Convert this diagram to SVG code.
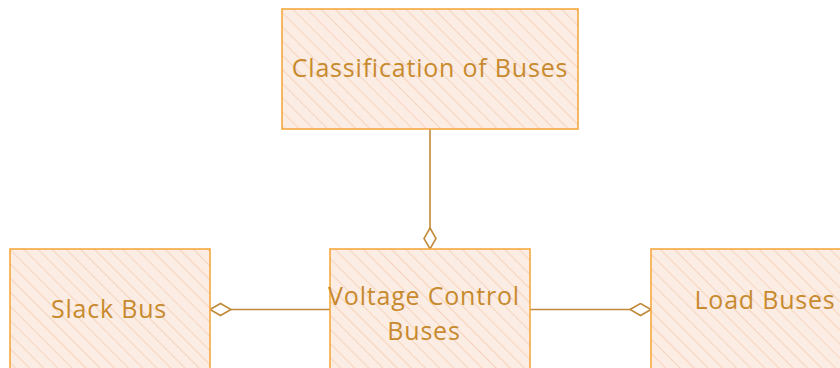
<svg xmlns="http://www.w3.org/2000/svg" width="840" height="368" viewBox="0 0 840 368">
  <defs>
    <pattern id="hatch" patternUnits="userSpaceOnUse" width="10" height="10" patternTransform="rotate(-45)">
      <rect width="10" height="10" fill="#fcede4"/>
      <line x1="0" y1="0" x2="0" y2="10" stroke="#f5d5bf" stroke-width="2.2"/>
    </pattern>
    <marker id="diamond" markerWidth="24" markerHeight="16" refX="22" refY="7" orient="auto" markerUnits="userSpaceOnUse">
      <path d="M1,7 L11.5,1 L22,7 L11.5,13 Z" fill="#ffffff" stroke="#c08a3a" stroke-width="1.6"/>
    </marker>
  </defs>
  <style>
    .box { fill: url(#hatch); stroke: #f5a83f; stroke-width: 1.6; }
    .label { font-family: "Comic Sans MS", "Open Sans", "DejaVu Sans", sans-serif; font-size: 25px; letter-spacing: 0.8px; fill: #c88a2e; text-anchor: middle; }
    .conn { fill: none; stroke: #c08a3a; stroke-width: 1.6; }
  </style>

  <g id="connectors">
    <path class="conn" d="M430,129 L430,249" marker-end="url(#diamond)"/>
    <path class="conn" d="M330,309.5 L210,309.5" marker-end="url(#diamond)"/>
    <path class="conn" d="M530,309.5 L651,309.5" marker-end="url(#diamond)"/>
  </g>

  <g id="classification">
    <rect class="box" x="282" y="9" width="296" height="120"/>
    <text class="label" x="430" y="77">Classification of Buses</text>
  </g>

  <g id="slack-bus">
    <rect class="box" x="10" y="249" width="200" height="130"/>
    <text class="label" x="109" y="318">Slack Bus</text>
  </g>

  <g id="voltage-control-buses">
    <rect class="box" x="330" y="249" width="200" height="130"/>
    <text class="label" x="424" y="305">Voltage Control</text>
    <text class="label" x="424" y="340">Buses</text>
  </g>

  <g id="load-buses">
    <rect class="box" x="651" y="249" width="200" height="130"/>
    <text class="label" x="765" y="309">Load Buses</text>
  </g>
</svg>
